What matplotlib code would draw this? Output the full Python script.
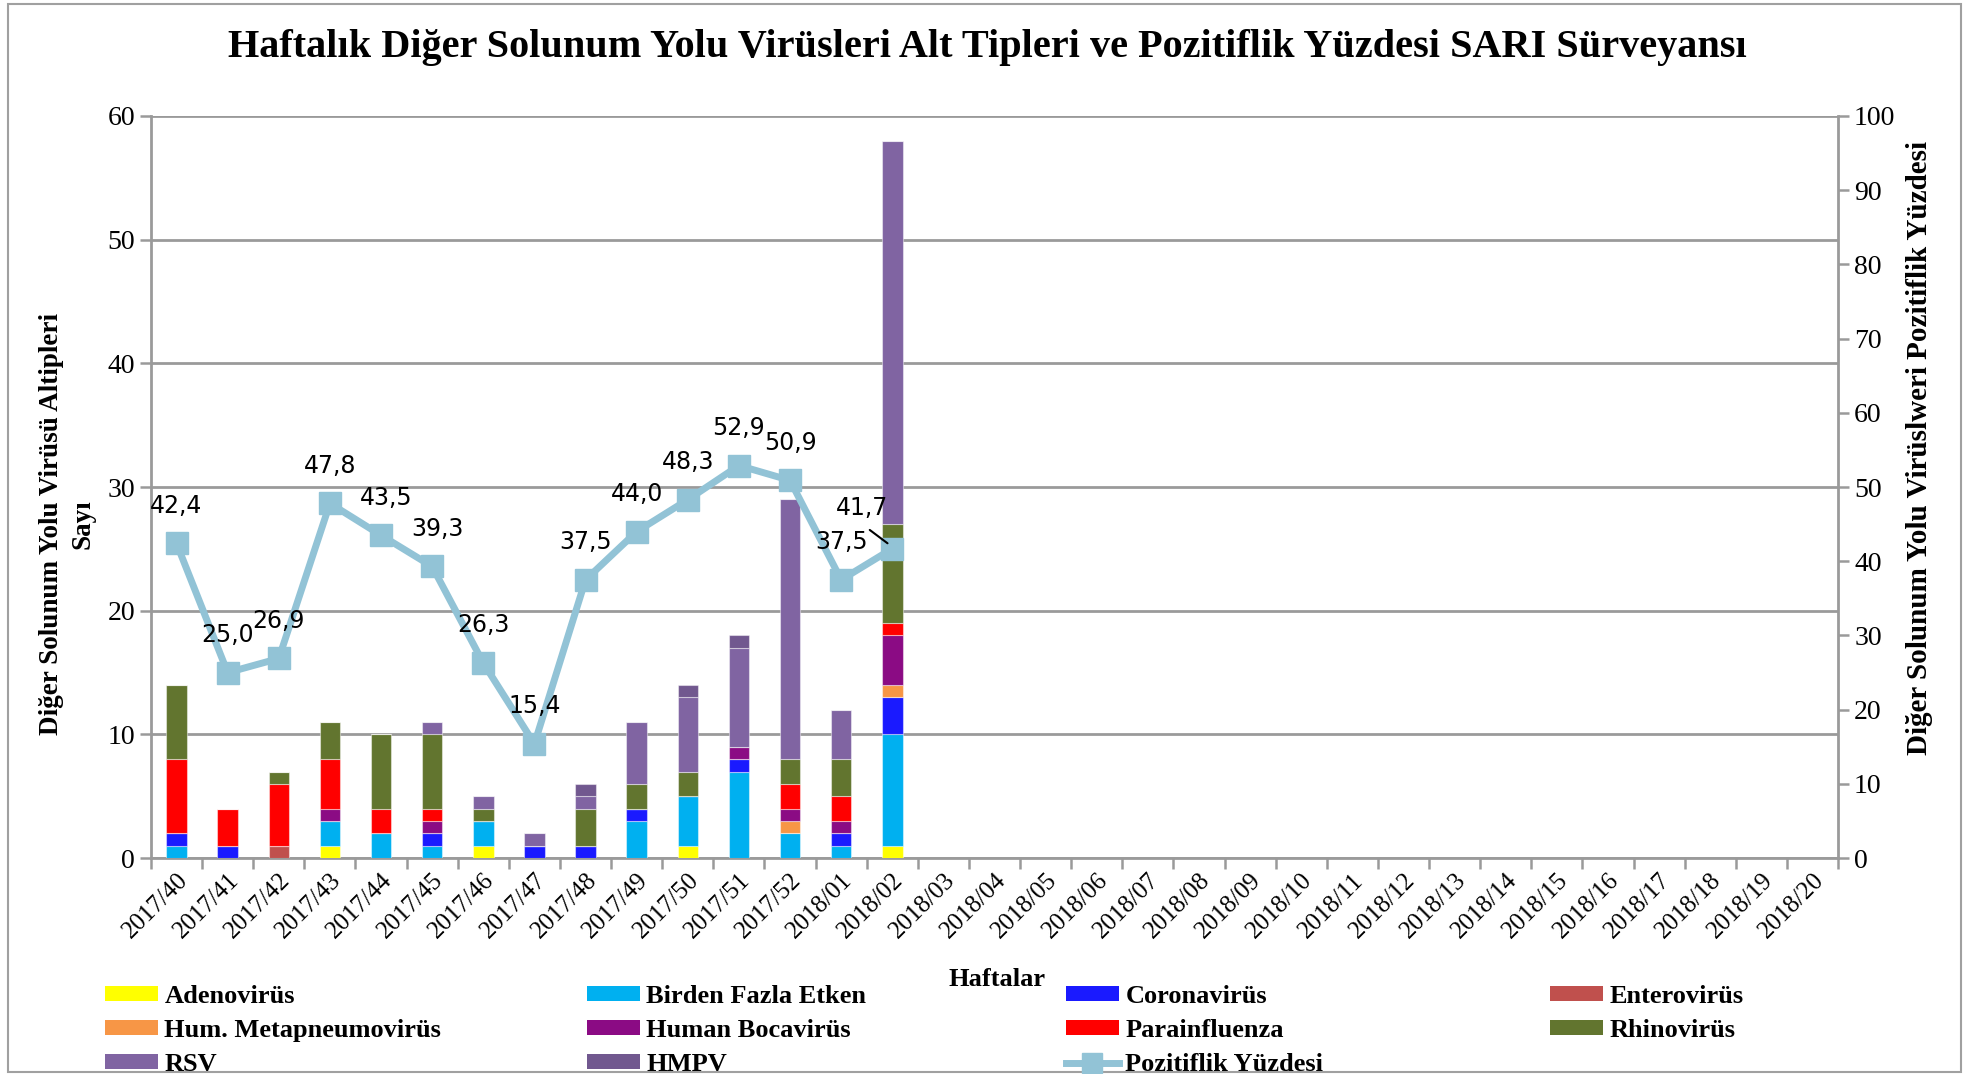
import numpy as np
import matplotlib
matplotlib.use("Agg")
from matplotlib import pyplot as plt
from matplotlib.patches import Patch, Rectangle
from matplotlib.lines import Line2D

weeks = ["2017/%d" % w for w in range(40, 53)] + ["2018/%02d" % w for w in range(1, 21)]

# virus counts per week (only the first 15 weeks have data)
adeno   = [0, 0, 0, 1, 0, 0, 1, 0, 0, 0, 1, 0, 0, 0, 1]
birden  = [1, 0, 0, 2, 2, 1, 2, 0, 0, 3, 4, 7, 2, 1, 9]
corona  = [1, 1, 0, 0, 0, 1, 0, 1, 1, 1, 0, 1, 0, 1, 3]
entero  = [0, 0, 1, 0, 0, 0, 0, 0, 0, 0, 0, 0, 0, 0, 0]
metapn  = [0, 0, 0, 0, 0, 0, 0, 0, 0, 0, 0, 0, 1, 0, 1]
boca    = [0, 0, 0, 1, 0, 1, 0, 0, 0, 0, 0, 1, 1, 1, 4]
parainf = [6, 3, 5, 4, 2, 1, 0, 0, 0, 0, 0, 0, 2, 2, 1]
rhino   = [6, 0, 1, 3, 6, 6, 1, 0, 3, 2, 2, 0, 2, 3, 8]
rsv     = [0, 0, 0, 0, 0, 1, 1, 1, 1, 5, 6, 8, 21, 4, 31]
hmpv    = [0, 0, 0, 0, 0, 0, 0, 0, 1, 0, 1, 1, 0, 0, 0]

pozitif = [42.4, 25.0, 26.9, 47.8, 43.5, 39.3, 26.3, 15.4, 37.5, 44.0, 48.3, 52.9, 50.9, 37.5, 41.7]

series = [
    ("Adenovirüs", adeno, "#FFFF00"),
    ("Birden Fazla Etken", birden, "#00B0F0"),
    ("Coronavirüs", corona, "#1A1AFF"),
    ("Enterovirüs", entero, "#C0504D"),
    ("Hum. Metapneumovirüs", metapn, "#F79646"),
    ("Human Bocavirüs", boca, "#8B0B84"),
    ("Parainfluenza", parainf, "#FF0000"),
    ("Rhinovirüs", rhino, "#62752F"),
    ("RSV", rsv, "#8064A2"),
    ("HMPV", hmpv, "#71588F"),
]
line_col = "#92C3D6"
grid_col = "#9A9A9A"
serif = ["Liberation Serif", "DejaVu Serif"]

fig = plt.figure(figsize=(19.79, 10.74), dpi=100)
ax = fig.add_axes([0.0763, 0.201, 0.8525, 0.691])

n = len(adeno)
x = np.arange(n)
bottom = np.zeros(n)
for name, vals, col in series:
    v = np.array(vals, dtype=float)
    ax.bar(x, v, 0.4, bottom=bottom, color=col, edgecolor=(1, 1, 1, 0.45), linewidth=0.8, zorder=3)
    bottom += v

ax.set_xlim(-0.5, len(weeks) - 0.5)
ax.set_ylim(0, 60)
ax.set_yticks(range(0, 61, 10))
ax.set_xticks(np.arange(len(weeks)))
ax.set_xticklabels(weeks, rotation=45, ha="right", rotation_mode="anchor", family=serif, fontsize=18)
ax.tick_params(axis="x", length=0, pad=8)
ax.set_xticks(np.arange(len(weeks) + 1) - 0.5, minor=True)
ax.tick_params(axis="x", which="minor", length=8, width=1.8, color=grid_col)
ax.tick_params(axis="y", length=8, width=1.8, color=grid_col, labelsize=20)
for lab in ax.get_yticklabels():
    lab.set_family(serif)
ax.grid(axis="y", color=grid_col, linewidth=2, zorder=0)
for s in ["left", "bottom", "right"]:
    ax.spines[s].set_color(grid_col)
    ax.spines[s].set_linewidth(2)
ax.spines["top"].set_visible(False)

ax2 = ax.twinx()
ax2.set_ylim(0, 100)
ax2.set_yticks(range(0, 101, 10))
ax2.tick_params(axis="y", length=8, width=1.8, color=grid_col, labelsize=20)
for lab in ax2.get_yticklabels():
    lab.set_family(serif)
for s in ["left", "bottom", "right", "top"]:
    ax2.spines[s].set_visible(False)
ax2.plot(x, pozitif, color=line_col, linewidth=5, marker="s", markersize=16, zorder=4)

for i, p in enumerate(pozitif):
    txt = ("%.1f" % p).replace(".", ",")
    if i == n - 1:
        ax2.annotate(txt, (x[i], p), xytext=(-22, 29), textcoords="offset points",
                     ha="center", va="center", fontsize=17, family="DejaVu Sans", zorder=6)
        ax2.annotate("", (x[i] - 0.05, p + 0.5), xytext=(-16, 12), textcoords="offset points",
                     arrowprops=dict(arrowstyle="-", color="black", lw=1.5), zorder=6)
    else:
        dx = 4 if i in (4, 5) else 0
        ax2.annotate(txt, (x[i], p), xytext=(dx, 27), textcoords="offset points",
                     ha="center", va="center", fontsize=17, family="DejaVu Sans", zorder=6)

fig.text(0.499, 0.956, "Haftalık Diğer Solunum Yolu Virüsleri Alt Tipleri ve Pozitiflik Yüzdesi SARI Sürveyansı",
         ha="center", va="center", fontsize=29, fontweight="bold", family=serif)
fig.text(0.034, 0.512, "Diğer Solunum Yolu Virüsü Altipleri\nSayı", rotation=90, ha="center", va="center",
         fontsize=19.5, fontweight="bold", family=serif, linespacing=1.3)
fig.text(0.970, 0.583, "Diğer Solunum Yolu Virüslweri Pozitiflik Yüzdesi", rotation=90, ha="center", va="center",
         fontsize=21, fontweight="bold", family=serif)
fig.text(0.504, 0.088, "Haftalar", ha="center", va="center", fontsize=19, fontweight="bold", family=serif)

# legend, four columns placed by hand
handles = {name: Patch(facecolor=col, edgecolor="none") for name, vals, col in series}
handles["Pozitiflik Yüzdesi"] = Line2D([], [], color=line_col, linewidth=5, marker="s", markersize=14)
cols = [["Adenovirüs", "Hum. Metapneumovirüs", "RSV"],
        ["Birden Fazla Etken", "Human Bocavirüs", "HMPV"],
        ["Coronavirüs", "Parainfluenza", "Pozitiflik Yüzdesi"],
        ["Enterovirüs", "Rhinovirüs"]]
col_x = [105, 587, 1066, 1550]
for names, cx in zip(cols, col_x):
    leg = fig.legend([handles[k] for k in names], names, loc="upper left",
                     bbox_to_anchor=(cx / 1979, 0.083), frameon=False, borderpad=0, borderaxespad=0,
                     handlelength=2.0, handleheight=0.5, handletextpad=0.25, labelspacing=0.42,
                     prop=dict(family=serif, weight="bold", size=19))

fig.add_artist(Rectangle((0.004, 0.002), 0.987, 0.994, transform=fig.transFigure, fill=False,
                         edgecolor="#A0A0A0", linewidth=1.5))

fig.savefig("out.png", dpi=100)
